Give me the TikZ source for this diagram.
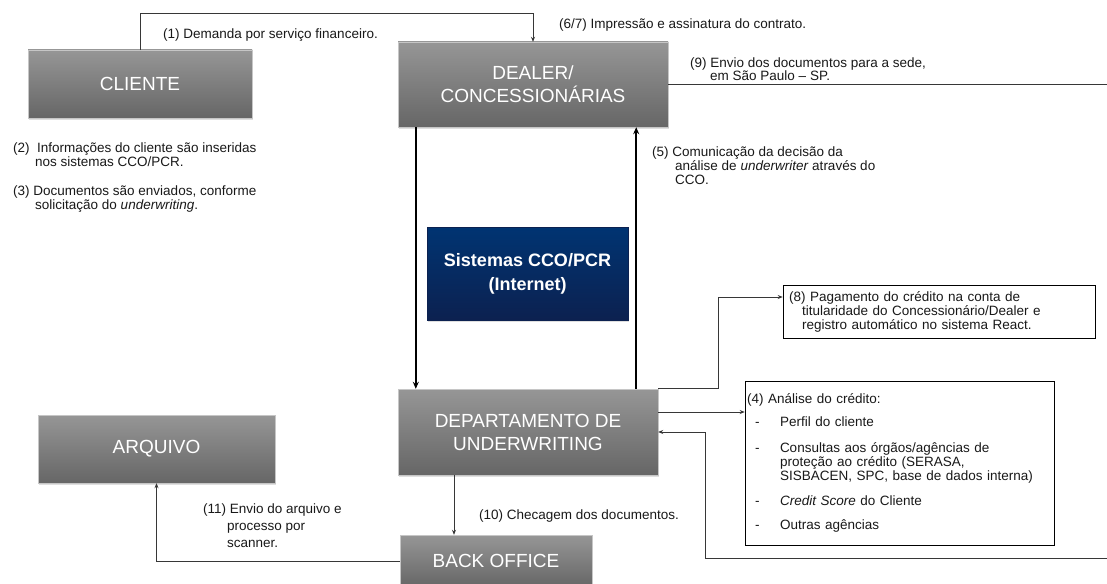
\documentclass[tikz,border=0pt]{standalone}
\usepackage{fontspec}
\setmainfont{Liberation Sans}
\usetikzlibrary{arrows.meta,shadows,positioning}

\definecolor{caixatopo}{RGB}{150,150,150}
\definecolor{caixabase}{RGB}{102,102,102}
\definecolor{azultopo}{RGB}{0,52,114}
\definecolor{azulbase}{RGB}{12,33,80}
\definecolor{texto}{RGB}{25,25,25}
\definecolor{linha}{RGB}{55,55,55}

\newcommand{\dashitem}{\makebox[33pt][l]{\hspace*{8pt}-}}

\begin{document}
\begin{tikzpicture}[x=1pt,y=-1pt,
		etapa/.style={draw=gray!45, line width=0.4pt, top color=caixatopo, bottom color=caixabase,
			text=white, font=\fontsize{19}{23}\selectfont, align=center, inner sep=0pt,
			drop shadow={shadow xshift=1pt, shadow yshift=-2pt, opacity=0.25}},
		sistema/.style={etapa, draw=azulbase, top color=azultopo, bottom color=azulbase,
			font=\bfseries\fontsize{18}{24}\selectfont},
		rotulo/.style={anchor=north west, inner sep=0pt, align=left, text=texto,
			font=\fontsize{13.5}{14}\selectfont},
		quadro/.style={draw=black, line width=0.6pt, fill=white, inner ysep=0pt, align=left,
			text=texto, font=\fontsize{13.5}{14}\selectfont},
		fluxo/.style={draw=linha, line width=0.7pt, -{Stealth[length=5pt,width=4pt]}},
		grosso/.style={draw=black, line width=2pt, -{Stealth[length=7pt,width=6pt]}}]
			
			\fill[white] (0,0) rectangle (1107,583);
			\useasboundingbox (0,0) rectangle (1107,583);
			
			% caixas do processo
			\node[etapa, minimum width=224pt, minimum height=68pt] (cliente) at (140,84) {CLIENTE};
			\node[etapa, minimum width=270pt, minimum height=85pt] (dealer) at (533,84.5) {DEALER/\\CONCESSIONÁRIAS};
			\node[sistema, minimum width=201pt, minimum height=93pt] (sistemas) at (527.5,273.5) {Sistemas CCO/PCR\\(Internet)};
			\node[etapa, minimum width=260pt, minimum height=86pt] (dept) at (528,432) {DEPARTAMENTO DE\\UNDERWRITING};
			\node[etapa, minimum width=237pt, minimum height=68pt] (arquivo) at (156.5,449) {ARQUIVO};
			\node[etapa, minimum width=192pt, minimum height=52pt] (backoff) at (496,561) {BACK OFFICE};
			
			\node[quadro, inner xsep=6pt, text width=300pt, minimum height=53pt] (pagto) at (939,311.5)
				{(8) Pagamento do crédito na conta de\\
				\hspace*{13pt}titularidade do Concessionário/Dealer e\\
				\hspace*{13pt}registro automático no sistema React.};
			\node[quadro, inner xsep=2pt, text width=305pt, minimum height=164pt] (analise) at (899.5,463)
				{(4) Análise do crédito:\\[9pt]
				\dashitem Perfil do cliente\\[12pt]
				\dashitem Consultas aos órgãos/agências de\\
				\hspace*{33pt}proteção ao crédito (SERASA,\\
				\hspace*{33pt}SISBACEN, SPC, base de dados interna)\\[11pt]
				\dashitem \textit{Credit Score} do Cliente\\[10pt]
				\dashitem Outras agências};
			
			% pontas livres
			\coordinate (sede) at (1107,84.5);
			\coordinate (retorno) at (1107,558);
			\coordinate (retornoc) at (705,558);
			
			% conexoes
			\draw[fluxo] (cliente.north) -- ++(0,-36) -| (dealer.north);
			\draw[draw=linha, line width=0.7pt] (dealer.east) -- (sede);
			\draw[grosso] ([xshift=18pt]dealer.south west) -- ([xshift=18pt]dealer.south west |- dept.north);
			\draw[grosso] ([xshift=-22pt]dept.north east) -- ([xshift=-22pt]dept.north east |- dealer.south);
			\draw[fluxo] (dept.north east) -- ++(60,0) |- ([yshift=14.5pt]pagto.west);
			\draw[fluxo] ([yshift=20pt]dept.east) -- ([yshift=20pt]dept.east -| analise.west);
			\draw[fluxo] (retorno) -- (retornoc) |- (dept.east);
			\draw[fluxo] ([xshift=-74pt]dept.south) -- ([xshift=-74pt]dept.south |- backoff.north);
			\draw[fluxo] (backoff.west) -| (arquivo.south);
			
			% textos das etapas
			\node[rotulo] (t1) at (163,29) {(1) Demanda por serviço financeiro.};
			\node[rotulo] (t67) at (559,19) {(6/7) Impressão e assinatura do contrato.};
			\node[rotulo, font=\fontsize{13.5}{13}\selectfont] (t9) at (690,58)
				{(9) Envio dos documentos para a sede,\\\hspace*{20pt}em São Paulo – SP.};
			\node[rotulo] (t2) at (13,143) {(2)\ \ Informações do cliente são inseridas\\\hspace*{22pt}nos sistemas CCO/PCR.};
			\node[rotulo] (t3) at (13,186) {(3) Documentos são enviados, conforme\\\hspace*{22pt}solicitação do \textit{underwriting}.};
			\node[rotulo] (t5) at (652,147)
				{(5) Comunicação da decisão da\\\hspace*{23pt}análise de \textit{underwriter} através do\\\hspace*{23pt}CCO.};
			\node[rotulo] (t10) at (479,510) {(10) Checagem dos documentos.};
			\node[rotulo, font=\fontsize{13.5}{16.7}\selectfont] (t11) at (203,504)
				{(11) Envio do arquivo e\\\hspace*{24pt}processo por\\\hspace*{24pt}scanner.};
			
		\end{tikzpicture}
\end{document}
